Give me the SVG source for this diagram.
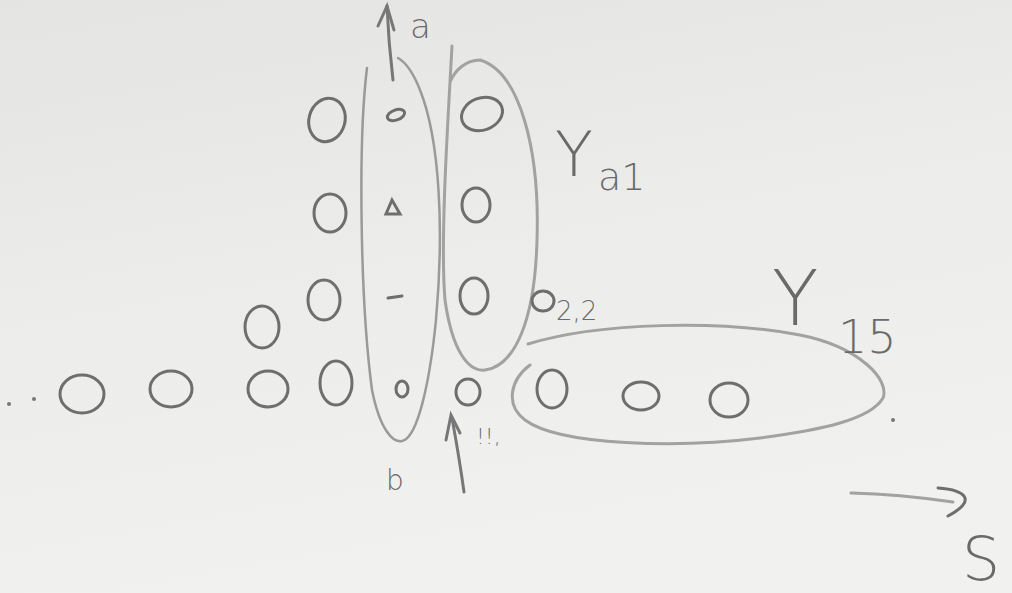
<svg xmlns="http://www.w3.org/2000/svg" width="1012" height="593" viewBox="0 0 1012 593">
<defs>
<linearGradient id="bg" x1="0" y1="0" x2="0.3" y2="1">
<stop offset="0" stop-color="#e4e4e2"/>
<stop offset="0.5" stop-color="#ececea"/>
<stop offset="1" stop-color="#f1f1ef"/>
</linearGradient>
<style>
.n{fill:none;stroke:#6e6e6e;stroke-width:3;stroke-linecap:round}
.s{fill:none;stroke:#777;stroke-width:3;stroke-linecap:round}
.g{fill:none;stroke:#9a9a9a;stroke-width:2.5;stroke-linecap:round}
.e{fill:none;stroke:#a2a2a2;stroke-width:3;stroke-linecap:round}
.t{font-family:"DejaVu Sans",sans-serif;fill:#6a6a6a;font-weight:300}
.d{fill:#777}
</style>
</defs>
<rect width="1012" height="593" fill="url(#bg)"/>

<g id="groups">
<path id="ellipse-left" class="g" d="M367,68 C358,140 360,300 372,390 C380,430 393,443 402,441 C418,438 430,380 436,320 C444,230 440,140 420,90 C413,72 405,62 398,58"/>
<path id="ellipse-right" class="e" d="M452,46 C448,120 440,240 445,300 C452,350 468,372 485,370 C515,366 535,320 537,240 C540,150 520,72 480,60 C466,60 455,70 450,82"/>
<path id="ellipse-bottom" class="e" d="M528,344 C600,322 720,320 800,335 C860,347 890,380 883,398 C870,420 820,430 760,438 C680,448 560,446 525,420 C505,405 510,380 530,365"/>
</g>

<g id="nodes">
<g id="c1"><ellipse class="n" cx="327" cy="120" rx="18" ry="22" transform="rotate(15 327 120)"/></g>
<g id="c2"><ellipse class="n" cx="330" cy="213" rx="16" ry="19"/></g>
<g id="c3"><ellipse class="n" cx="324" cy="300" rx="16" ry="20"/></g>
<g id="c4"><ellipse class="n" cx="336" cy="383" rx="16" ry="22"/></g>
<g id="c5"><ellipse class="n" cx="262" cy="327" rx="17" ry="21"/></g>
<g id="c6"><ellipse class="n" cx="82" cy="394" rx="22" ry="19"/></g>
<g id="c7"><ellipse class="n" cx="171" cy="389" rx="21" ry="18"/></g>
<g id="c8"><ellipse class="n" cx="268" cy="389" rx="20" ry="18"/></g>
<g id="d1"><ellipse class="n" cx="396" cy="115" rx="9" ry="5" transform="rotate(-20 396 115)"/></g>
<g id="d2"><path class="n" d="M392,200 L386,214 L400,214 Z"/></g>
<g id="d3"><path class="n" d="M388,298 L402,296"/></g>
<g id="d4"><ellipse class="n" cx="402" cy="389" rx="6" ry="8"/></g>
<g id="r1"><ellipse class="n" cx="482" cy="114" rx="21" ry="16" transform="rotate(-20 482 114)"/></g>
<g id="r2"><ellipse class="n" cx="476" cy="205" rx="14" ry="17"/></g>
<g id="r3"><ellipse class="n" cx="474" cy="296" rx="14" ry="18"/></g>
<g id="r4"><ellipse class="n" cx="468" cy="392" rx="12" ry="13"/></g>
<g id="v22"><ellipse class="n" cx="543" cy="301" rx="11" ry="10"/><text class="t" x="556" y="320" font-size="26">2,2</text></g>
<g id="b1"><ellipse class="n" cx="552" cy="389" rx="15" ry="19"/></g>
<g id="b2"><ellipse class="n" cx="641" cy="396" rx="18" ry="14"/></g>
<g id="b3"><ellipse class="n" cx="729" cy="400" rx="19" ry="17"/></g>
<circle class="d" cx="9" cy="404" r="2"/>
<circle class="d" cx="34" cy="399" r="2"/>
<circle class="d" cx="893" cy="420" r="2"/>
</g>

<g id="connectors">
<path class="s" d="M393,80 C390,55 388,30 387,6"/>
<path class="s" d="M378,26 L387,6 L394,30"/>
<path class="s" d="M464,492 C461,470 456,440 452,418"/>
<path class="s" d="M446,440 L451,415 L460,433"/>
<path class="e" d="M851,493 C890,494 925,498 953,502"/>
<path class="n" d="M938,488 C965,490 978,500 948,516"/>
</g>

<g id="labels">
<text class="t" x="410" y="38" font-size="34">a</text>
<text class="t" x="555" y="176" font-size="62">Y</text>
<text class="t" x="598" y="190" font-size="38">a1</text>
<text class="t" x="772" y="325" font-size="76">Y</text>
<text class="t" x="838" y="353" font-size="46">15</text>
<text class="t" x="962" y="580" font-size="60">S</text>
<text class="t" x="386" y="490" font-size="28">b</text>
<text class="t" x="476" y="444" font-size="22">!!,</text>
</g>
</svg>
